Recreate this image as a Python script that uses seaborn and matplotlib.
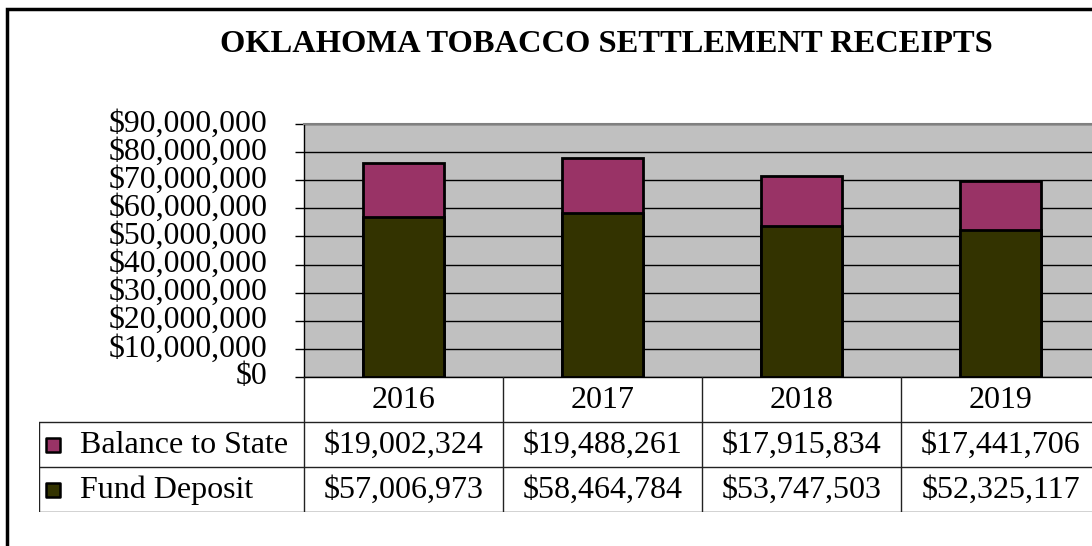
import numpy as np
import pandas as pd
import matplotlib
matplotlib.use('Agg')
import matplotlib.pyplot as plt
import matplotlib.ticker as mticker
from matplotlib.patches import Rectangle
import seaborn as sns

years = ['2016', '2017', '2018', '2019']
balance_to_state = [19002324, 19488261, 17915834, 17441706]
fund_deposit = [57006973, 58464784, 53747503, 52325117]
series_names = ['Balance to State', 'Fund Deposit']
series_colors = ['#993366', '#333300']

sns.set_theme(style='white')
plt.rcParams['font.family'] = ['Liberation Serif', 'DejaVu Serif']
plt.rcParams['text.color'] = 'black'
plt.rcParams['ytick.color'] = 'black'
plt.rcParams['ytick.labelcolor'] = 'black'

df = pd.DataFrame({'Year': years,
                   'Balance to State': balance_to_state,
                   'Fund Deposit': fund_deposit})
df['Total'] = df['Balance to State'] + df['Fund Deposit']

W, H = 1092, 546
fig = plt.figure(figsize=(W / 100, H / 100), dpi=100)

# outer chart border
fig.patches.append(Rectangle((7 / W, -0.1), 1.2, 1.1 - 9 / H, transform=fig.transFigure,
                             fill=False, edgecolor='black', linewidth=2.5, zorder=0))

fig.text(606 / W, 1 - 44 / H, 'OKLAHOMA TOBACCO SETTLEMENT RECEIPTS',
         ha='center', va='center', fontsize=23.4, fontweight='bold', color='black')

# main plot area
ax = fig.add_axes([304 / W, (H - 377) / H, 796 / W, 253 / H])
ax.set_facecolor('#C0C0C0')
ax.set_axisbelow(True)
ax.yaxis.grid(True, color='black', linewidth=1)

sns.barplot(data=df, x='Year', y='Total', color=series_colors[0], width=0.41,
            edgecolor='black', linewidth=2, saturation=1, ax=ax)
sns.barplot(data=df, x='Year', y='Fund Deposit', color=series_colors[1], width=0.41,
            edgecolor='black', linewidth=2, saturation=1, ax=ax)

ax.set_xlim(-0.5, 3.5)
ax.set_ylim(0, 90000000)
ax.yaxis.set_major_locator(mticker.MultipleLocator(10000000))
ax.yaxis.set_major_formatter(mticker.FuncFormatter(lambda v, p: '${:,.0f}'.format(v)))
ax.tick_params(axis='y', which='major', left=True, length=6.5, width=1, pad=20,
               labelsize=22.9, direction='out', color='black', labelcolor='black')
ax.set_xticks([])
ax.set_xlabel('')
ax.set_ylabel('')
for lab in ax.get_yticklabels():
    lab.set_verticalalignment('center')
ax.spines['left'].set_color('black')
ax.spines['left'].set_linewidth(1)
ax.spines['bottom'].set_color('black')
ax.spines['bottom'].set_linewidth(1)
ax.spines['top'].set_color('#808080')
ax.spines['top'].set_linewidth(1.5)
ax.spines['right'].set_visible(False)

# data table below the plot area
x_left = (39 - 304) / 199 - 0.5
tax = fig.add_axes([39 / W, (H - 512) / H, (1100 - 39) / W, 135 / H])
tax.set_xlim(x_left, 3.5)
tax.set_ylim(0, 3)
tax.axis('off')
lc = '#222222'
for yy in [0, 1, 2]:
    tax.plot([x_left, 3.5], [yy, yy], color=lc, linewidth=1)
tax.plot([x_left, x_left], [0, 2], color=lc, linewidth=1)
for xx in [-0.5, 0.5, 1.5, 2.5]:
    tax.plot([xx, xx], [0, 3], color=lc, linewidth=1)

fs = 23
for i, yr in enumerate(years):
    tax.text(i, 2.48, yr, ha='center', va='center', fontsize=fs)
    tax.text(i, 1.48, '${:,.0f}'.format(balance_to_state[i]), ha='center', va='center', fontsize=fs)
    tax.text(i, 0.48, '${:,.0f}'.format(fund_deposit[i]), ha='center', va='center', fontsize=fs)

key_x = (53 - 304) / 199 - 0.5
label_x = (80 - 304) / 199 - 0.5
for row, (name, col) in enumerate(zip(series_names, series_colors)):
    yy = 1.5 - row
    tax.scatter([key_x], [yy], marker='s', s=105, color=col, edgecolor='black', linewidth=1.8)
    tax.text(label_x, yy - 0.02, name, ha='left', va='center', fontsize=fs)

fig.savefig('out.png', dpi=100)
